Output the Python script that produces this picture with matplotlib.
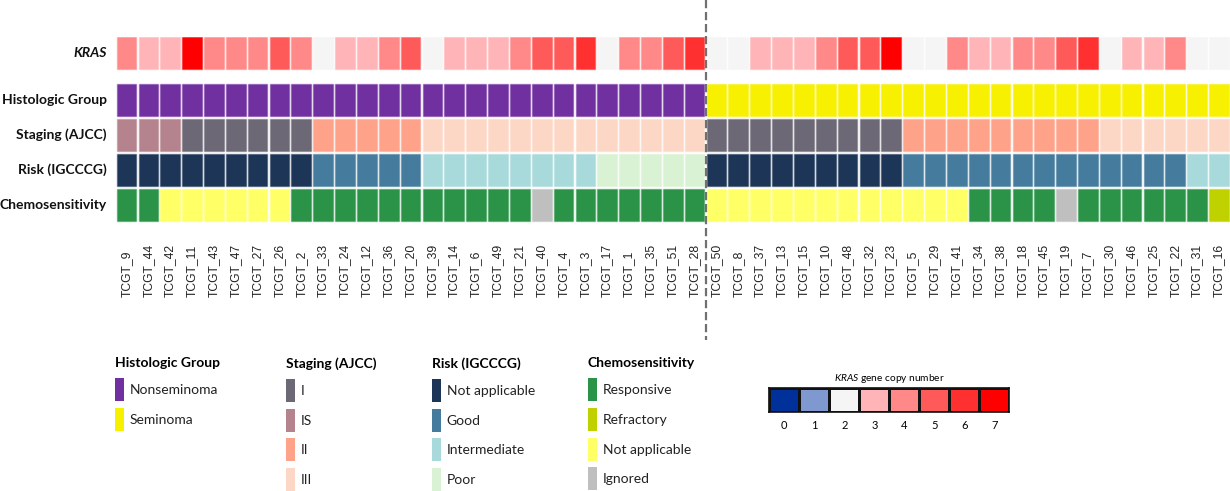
import matplotlib
matplotlib.use("Agg")
import matplotlib.pyplot as plt
from matplotlib.patches import Rectangle, Patch
from matplotlib.colors import ListedColormap, BoundaryNorm
from matplotlib.lines import Line2D
from matplotlib.legend_handler import HandlerPatch
import matplotlib.transforms as mtransforms
import numpy as np

plt.rcParams['mathtext.fontset'] = 'custom'
plt.rcParams['mathtext.it'] = 'Lato:italic'
plt.rcParams['mathtext.rm'] = 'Lato'

# ---------------- data ----------------
samples = ["TCGT_9", "TCGT_44", "TCGT_42", "TCGT_11", "TCGT_43", "TCGT_47", "TCGT_27",
           "TCGT_26", "TCGT_2", "TCGT_33", "TCGT_24", "TCGT_12", "TCGT_36", "TCGT_20",
           "TCGT_39", "TCGT_14", "TCGT_6", "TCGT_49", "TCGT_21", "TCGT_40", "TCGT_4",
           "TCGT_3", "TCGT_17", "TCGT_1", "TCGT_35", "TCGT_51", "TCGT_28",
           "TCGT_50", "TCGT_8", "TCGT_37", "TCGT_13", "TCGT_15", "TCGT_10", "TCGT_48",
           "TCGT_32", "TCGT_23", "TCGT_5", "TCGT_29", "TCGT_41", "TCGT_34", "TCGT_38",
           "TCGT_18", "TCGT_45", "TCGT_19", "TCGT_7", "TCGT_30", "TCGT_46", "TCGT_25",
           "TCGT_22", "TCGT_31", "TCGT_16"]

kras_cn = [4, 3, 3, 7, 4, 4, 4, 5, 4, 2, 3, 3, 4, 5, 2, 3, 3, 3, 4, 5, 5, 6, 2, 4, 4, 5, 6,
           2, 2, 3, 3, 3, 4, 5, 5, 7, 2, 2, 4, 3, 3, 4, 4, 5, 6, 2, 3, 3, 4, 2, 2]

histologic = ["Nonseminoma"] * 27 + ["Seminoma"] * 24

staging = (["IS"] * 3 + ["I"] * 6 + ["II"] * 5 + ["III"] * 13 +
           ["I"] * 9 + ["II"] * 9 + ["III"] * 6)

risk = (["Not applicable"] * 9 + ["Good"] * 5 + ["Intermediate"] * 8 + ["Poor"] * 5 +
        ["Not applicable"] * 9 + ["Good"] * 13 + ["Intermediate"] * 2)

chemo = (["Responsive"] * 2 + ["Not applicable"] * 6 + ["Responsive"] * 11 + ["Ignored"] +
         ["Responsive"] * 7 + ["Not applicable"] * 12 + ["Responsive"] * 4 + ["Ignored"] +
         ["Responsive"] * 6 + ["Refractory"])

n_left_group = 27  # Nonseminoma samples (dashed separator)

# ---------------- styles ----------------
kras_levels = [0, 1, 2, 3, 4, 5, 6, 7]
kras_colors = ["#00309A", "#7F98CF", "#F5F5F5", "#FFB5B8", "#FF8888", "#FF5A5A", "#FF3030", "#FF0000"]

hist_colors = {"Nonseminoma": "#7030A0", "Seminoma": "#F7F000"}
stage_colors = {"I": "#6D6875", "IS": "#B5838D", "II": "#FFA28A", "III": "#FCD7C5"}
risk_colors = {"Not applicable": "#1D3557", "Good": "#457B9D", "Intermediate": "#A8DADC", "Poor": "#D9F2D3"}
chemo_colors = {"Responsive": "#2B9348", "Refractory": "#BFD200", "Not applicable": "#FFFF66", "Ignored": "#BFBFBF"}

W, H = 1230, 491
fig = plt.figure(figsize=(W / 100, H / 100), dpi=100)

def fx(px):
    return px / W

def fy(py):
    return 1 - py / H

n = len(samples)
pitch = 21.85
ax_left = 115.6
ax_top, ax_bot = 37.0, 222.5
ax = fig.add_axes([fx(ax_left), fy(ax_bot), (n * pitch) / W, (ax_bot - ax_top) / H])
row_pitch = 35.0
ax.set_xlim(0, n)
ax.set_ylim((ax_bot - ax_top) / row_pitch, 0)
ax.axis("off")

row_tops = [0.0, 1.343, 2.343, 3.343, 4.343]
cell_h = 0.92
cell_w = 0.9

def draw_row(colors, top):
    for i, c in enumerate(colors):
        r = Rectangle((i + (1 - cell_w) / 2, top), cell_w, cell_h, facecolor=c,
                      edgecolor=matplotlib.colors.to_rgba(c, 0.45), linewidth=1.0)
        ax.add_patch(r)

draw_row([kras_colors[kras_levels.index(v)] for v in kras_cn], row_tops[0])
draw_row([hist_colors[v] for v in histologic], row_tops[1])
draw_row([stage_colors[v] for v in staging], row_tops[2])
draw_row([risk_colors[v] for v in risk], row_tops[3])
draw_row([chemo_colors[v] for v in chemo], row_tops[4])

# row labels
tr_row = mtransforms.blended_transform_factory(fig.transFigure, ax.transData)
row_names = ["KRAS", "Histologic Group", "Staging (AJCC)", "Risk (IGCCCG)", "Chemosensitivity"]
for k, name in enumerate(row_names):
    kw = dict(fontstyle="italic") if k == 0 else {}
    fig.text(fx(107), row_tops[k] + cell_h / 2, name, transform=tr_row, ha="right", va="center",
             fontsize=10, fontweight="bold", family="Lato", color="#111111", **kw)

# sample labels
tr_lab = mtransforms.blended_transform_factory(ax.transData, fig.transFigure)
for i, s in enumerate(samples):
    ax.text(i + 0.5, fy(297), s, transform=tr_lab, rotation=90, ha="center", va="bottom",
            fontsize=8.7, family="Liberation Sans", color="#222222", clip_on=False)

# dashed separator
sep = Line2D([n_left_group, n_left_group], [1.0, fy(340)], transform=tr_lab, color="#707070",
             linewidth=1.6, linestyle=(0, (3.7, 1.7)), clip_on=False)
ax.add_line(sep)

# ---------------- legends ----------------
PATCH_H_PT = 16.6  # visual height of legend swatches (points)

def tall_patch(legend, orig_handle, xdescent, ydescent, width, height, fontsize):
    e = (PATCH_H_PT - height) / 2
    return Rectangle((-xdescent, -ydescent - e), width, height + 2 * e)

leg_specs = [
    ("Histologic Group", hist_colors, ["Nonseminoma", "Seminoma"], 115),
    ("Staging (AJCC)", stage_colors, ["I", "IS", "II", "III"], 286),
    ("Risk (IGCCCG)", risk_colors, ["Not applicable", "Good", "Intermediate", "Poor"], 432),
    ("Chemosensitivity", chemo_colors, ["Responsive", "Refractory", "Not applicable", "Ignored"], 588),
]
for title, cmap_d, keys, xpx in leg_specs:
    handles = [Patch(facecolor=cmap_d[k], edgecolor="none") for k in keys]
    leg = fig.legend(handles, keys, title=title, loc="upper left",
                     bbox_to_anchor=(fx(xpx), fy(357)), frameon=False,
                     handlelength=0.65, handleheight=1.6, handletextpad=0.4,
                     labelspacing=0.85, borderpad=0.0, borderaxespad=0.0,
                     alignment="left", prop={"family": "Lato", "size": 10},
                     title_fontproperties={"family": "Lato", "size": 10, "weight": "bold"},
                     handler_map={Patch: HandlerPatch(patch_func=tall_patch)})
    for t in leg.get_texts():
        t.set_color("#222222")

# ---------------- KRAS colour scale ----------------
cax = fig.add_axes([fx(769.3), fy(412), (1009.3 - 769.3) / W, 24 / H])
cmap = ListedColormap(kras_colors)
norm = BoundaryNorm(np.arange(-0.5, 8.5, 1), cmap.N)
cax.pcolormesh(np.arange(-0.5, 8.5, 1), [0, 1], np.array([kras_levels]), cmap=cmap, norm=norm,
               edgecolors="#111111", linewidth=1.0)
cax.set_xlim(-0.5, 7.5)
cax.set_ylim(0, 1)
cax.set_yticks([])
cax.set_xticks(kras_levels)
cax.set_xticklabels([str(v) for v in kras_levels], family="Lato", fontsize=8)
cax.tick_params(axis="x", length=0, pad=6)
for sp in cax.spines.values():
    sp.set_linewidth(1.2)
    sp.set_color("#111111")
cax.set_title(r"$\mathit{KRAS}$ gene copy number", fontsize=7.3, family="Lato", pad=5,
              fontweight="normal")

fig.savefig("out.png", dpi=100)
